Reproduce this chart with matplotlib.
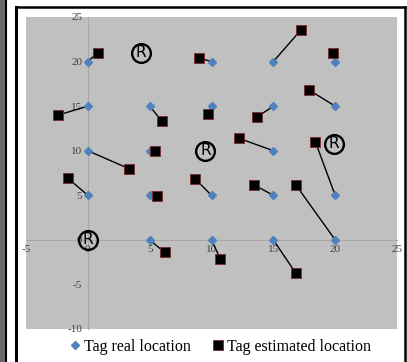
import matplotlib
matplotlib.use("Agg")
import matplotlib.pyplot as plt
from matplotlib.lines import Line2D
from matplotlib.patches import Rectangle

# tag positions (m): real grid location and the estimated location
real_x = [0, 10, 15, 20,
          0, 5, 10, 15, 20,
          0, 5, 15,
          0, 5, 10, 15, 20,
          5, 10, 15, 20]
real_y = [20, 20, 20, 20,
          15, 15, 15, 15, 15,
          10, 10, 10,
          5, 5, 5, 5, 5,
          0, 0, 0, 0]
est_x = [0.8, 9.0, 17.2, 19.8,
         -2.4, 6.0, 9.7, 13.7, 17.9,
         3.3, 5.4, 12.2,
         -1.6, 5.6, 8.7, 13.4, 18.4,
         6.2, 10.7, 16.8, 16.8]
est_y = [21.0, 20.4, 23.5, 21.0,
         14.0, 13.3, 14.1, 13.8, 16.8,
         8.0, 10.0, 11.4,
         6.9, 4.9, 6.8, 6.2, 11.0,
         -1.4, -2.1, -3.7, 6.2]

# reader antenna positions
reader_x = [4.3, 9.5, 19.9, 0.0]
reader_y = [21.0, 10.0, 10.8, 0.0]

xticks = [-5, 0, 5, 10, 15, 20, 25]
yticks = [-10, -5, 0, 5, 10, 15, 20, 25]

blue = "#4f81bd"
serif = "Liberation Serif"

fig = plt.figure(figsize=(4.07, 3.62), dpi=100)
ax = fig.add_axes([26 / 407, 1 - 329 / 362, 371 / 407, 312 / 362])
ax.set_facecolor("#c0c0c0")

for rx, ry, ex, ey in zip(real_x, real_y, est_x, est_y):
    ax.plot([rx, ex], [ry, ey], color="black", lw=1.0, zorder=2)

ax.plot(real_x, real_y, "D", color=blue, ms=4.2, mec=blue, ls="none", zorder=3,
        label="Tag real location")
ax.plot(est_x, est_y, "s", color="black", ms=7, mec="#7a2a2a", mew=0.6,
        ls="none", zorder=4, label="Tag estimated location")

# readers: circled R
ax.plot(reader_x, reader_y, "o", ms=13.5, mfc="none", mec="black", mew=1.7,
        ls="none", zorder=5)
for x, y in zip(reader_x, reader_y):
    ax.text(x, y, "R", fontsize=11, family="DejaVu Sans",
            ha="center", va="center", zorder=5)

ax.set_xlim(-5, 25)
ax.set_ylim(-10, 25)
ax.set_xticks(xticks)
ax.set_yticks(yticks)
ax.set_xticklabels([str(t) for t in xticks])
ax.set_yticklabels([str(t) for t in yticks])

for side in ("top", "right"):
    ax.spines[side].set_visible(False)
ax.spines["left"].set_position(("data", 0))
ax.spines["bottom"].set_position(("data", 0))
for side in ("left", "bottom"):
    ax.spines[side].set_color("#a8a8a8")
    ax.spines[side].set_linewidth(0.8)
    ax.spines[side].set_zorder(1)

ax.tick_params(length=0, labelsize=8, labelcolor="#404040", pad=4)
for lab in ax.get_xticklabels() + ax.get_yticklabels():
    lab.set_fontfamily(serif)

fig.legend(loc="center", bbox_to_anchor=(221 / 407, 1 - 347 / 362), ncol=2,
           frameon=False, prop={"family": serif, "size": 11.5},
           handlelength=0.5, handletextpad=0.3, columnspacing=1.5)

# frame around the figure and the strip on the left edge
fig.patches.append(Rectangle((0, 0), 5 / 407, 1, transform=fig.transFigure,
                             facecolor="#6a6a6a", edgecolor="none"))
fig.lines.append(Line2D([6 / 407, 6 / 407], [0, 1], transform=fig.transFigure,
                        color="black", lw=1.5))
fig.lines.append(Line2D([15.5 / 407, 15.5 / 407], [0, 1 - 7 / 362],
                        transform=fig.transFigure, color="black", lw=2.2))
fig.lines.append(Line2D([15.5 / 407, 405 / 407], [1 - 7 / 362, 1 - 7 / 362],
                        transform=fig.transFigure, color="black", lw=1.8))
fig.lines.append(Line2D([405 / 407, 405 / 407], [0, 1 - 7 / 362],
                        transform=fig.transFigure, color="black", lw=1.8))

fig.savefig("out.png", dpi=100)
